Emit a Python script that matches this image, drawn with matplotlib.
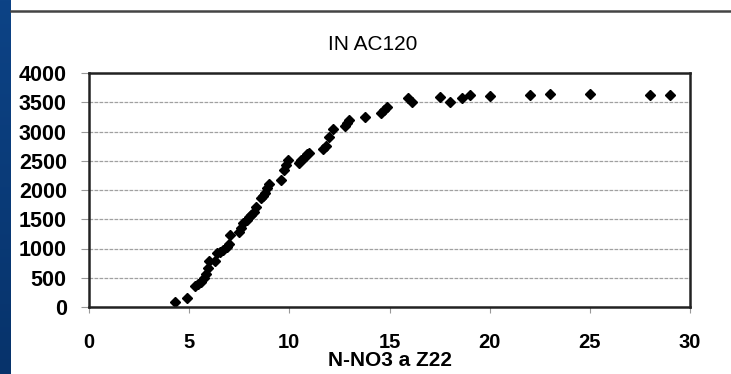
import matplotlib.pyplot as plt
import numpy as np
from matplotlib.lines import Line2D

# Dane
n_no3 = [4.3, 4.9, 5.3, 5.45, 5.6, 5.75, 5.85, 5.95, 6.0, 6.3, 6.4, 6.55, 6.7, 6.9,
         7.0, 7.05, 7.5, 7.6, 7.7, 7.9, 8.0, 8.1, 8.25, 8.35, 8.6, 8.7, 8.8, 8.9,
         9.0, 9.6, 9.75, 9.85, 9.95, 10.5, 10.6, 10.75, 10.9, 11.0, 11.7, 11.85,
         12.0, 12.2, 12.8, 12.9, 13.0, 13.8, 14.6, 14.75, 14.9, 15.9, 16.1, 17.5,
         18.0, 18.6, 19.0, 20.0, 22.0, 23.0, 25.0, 28.0, 29.0]
in_ac120 = [90, 150, 360, 390, 420, 500, 570, 660, 780, 780, 920, 940, 970, 1030,
            1080, 1230, 1290, 1350, 1430, 1480, 1530, 1580, 1630, 1710, 1860, 1900,
            1950, 2030, 2100, 2170, 2340, 2420, 2510, 2460, 2520, 2550, 2620, 2640,
            2700, 2750, 2900, 3040, 3100, 3150, 3200, 3250, 3320, 3370, 3420, 3570,
            3510, 3590, 3500, 3570, 3620, 3610, 3620, 3640, 3640, 3620, 3620]
x_ticks = [0, 5, 10, 15, 20, 25, 30]
y_ticks = [0, 500, 1000, 1500, 2000, 2500, 3000, 3500, 4000]

plt.rcParams['font.family'] = ['Liberation Sans', 'DejaVu Sans']

fig = plt.figure(figsize=(7.31, 3.74), dpi=100)
fig.patch.set_facecolor('white')

# niebieski pasek slajdu po lewej
strip = fig.add_axes([0, 0, 11 / 731, 1])
grad = np.linspace(0, 1, 256).reshape(-1, 1)
strip.imshow(grad, aspect='auto', cmap=plt.matplotlib.colors.LinearSegmentedColormap.from_list(
    'slide', ['#0d4386', '#07336b']), extent=[0, 1, 0, 1])
strip.set_axis_off()

# linia u góry slajdu
fig.add_artist(Line2D([11 / 731, 1], [1 - 10.5 / 374] * 2, color='#444444', lw=1.8))

ax = fig.add_axes([89 / 731, 67 / 374, 601 / 731, 234 / 374])
ax.plot(n_no3, in_ac120, 'D', color='black', markersize=5.5)

ax.set_xlim(0, 30)
ax.set_ylim(0, 4000)
ax.set_xticks(x_ticks)
ax.set_yticks(y_ticks)
ax.yaxis.grid(True, color='#a0a0a0', linestyle=(0, (3, 1)), linewidth=0.9)
ax.set_axisbelow(True)
for side in ax.spines.values():
    side.set_linewidth(1.8)
    side.set_color('#222222')

ax.tick_params(axis='y', length=6, color='#999999', pad=10, labelsize=15.5)
ax.tick_params(axis='x', length=4, color='#999999', pad=15, labelsize=14.5)
for lab in ax.get_xticklabels() + ax.get_yticklabels():
    lab.set_fontweight('bold')

ax.set_xlabel('N-NO3 a Z22', fontsize=15, fontweight='bold', labelpad=-1)
fig.text(373 / 731, 1 - 44 / 374, 'IN AC120', fontsize=15, ha='center', va='center')

plt.savefig('out.png', dpi=100)
